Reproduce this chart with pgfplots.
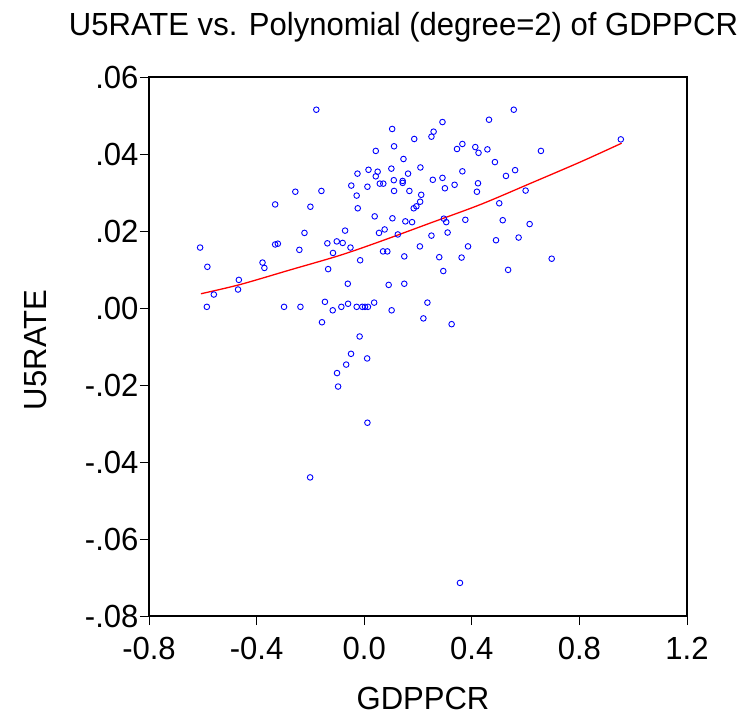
\documentclass[border=0pt]{standalone}
\usepackage{fontspec}
\setmainfont[FakeStretch=0.97]{Liberation Sans}
\usepackage{pgfplots}
\pgfplotsset{compat=1.18}
\newcommand{\cf}{\fontsize{32bp}{38bp}\selectfont}
\begin{document}
\begin{tikzpicture}
\useasboundingbox (-149bp,-100bp) rectangle (593bp,616bp);
\begin{axis}[
  at={(0,0)}, anchor=south west,
  scale only axis, width=538bp, height=539bp,
  xmin=-0.8, xmax=1.2, ymin=-0.08, ymax=0.06,
  scaled y ticks=false, scaled x ticks=false,
  axis line style={line width=2.2bp},
  tick style={line width=0.8bp, black},
  tick align=outside, major tick length=9bp,
  xtick pos=left, ytick pos=left,
  xtick={-0.8,-0.4,0,0.4,0.8,1.2},
  xticklabels={-0.8,-0.4,0.0,0.4,0.8,1.2},
  ytick={-0.08,-0.06,-0.04,-0.02,0,0.02,0.04,0.06},
  yticklabels={-.08,-.06,-.04,-.02,.00,.02,.04,.06},
  ticklabel style={font=\cf},
  xticklabel style={yshift=-9bp},
  yticklabel style={xshift=2bp},
  clip=false,
]
\addplot[only marks, mark=o, mark size=2.8bp, blue, mark options={line width=0.9bp}] coordinates {
(-0.178,0.0515) (0.104,0.0465) (0.186,0.0439) (0.111,0.0420) (0.043,0.0408)
(0.146,0.0387) (0.209,0.0365) (0.101,0.0362) (0.016,0.0359) (0.050,0.0354)
(-0.025,0.0349) (0.043,0.0342) (0.163,0.0349) (0.110,0.0332) (0.143,0.0330)
(0.143,0.0325) (0.058,0.0323) (0.071,0.0323) (-0.048,0.0318) (0.012,0.0315)
(-0.256,0.0302) (-0.159,0.0304) (0.111,0.0304) (0.168,0.0304) (-0.028,0.0292)
(0.212,0.0294) (-0.331,0.0269) (-0.200,0.0263) (-0.024,0.0259) (0.184,0.0259)
(0.194,0.0264) (0.208,0.0276) (0.039,0.0238) (0.105,0.0233) (0.153,0.0225)
(0.178,0.0223) (-0.222,0.0195) (-0.071,0.0201) (0.055,0.0195) (0.076,0.0204)
(0.125,0.0191) (-0.331,0.0165) (-0.321,0.0167) (-0.137,0.0168) (-0.102,0.0173)
(-0.080,0.0169) (-0.051,0.0157) (-0.610,0.0157) (-0.241,0.0151) (-0.116,0.0143)
(0.070,0.0147) (0.086,0.0147) (0.207,0.0160) (-0.015,0.0124) (0.149,0.0134)
(-0.583,0.0107) (-0.378,0.0118) (-0.371,0.0104) (-0.134,0.0101) (-0.466,0.0073)
(-0.469,0.0048) (-0.559,0.0035) (-0.061,0.0063) (0.091,0.0060) (0.149,0.0063)
(-0.146,0.0016) (0.037,0.0014) (-0.585,0.0003) (-0.298,0.0003) (-0.237,0.0003)
(-0.117,-0.0006) (-0.085,0.0003) (-0.060,0.0011) (-0.028,0.0003) (-0.007,0.0003)
(0.003,0.0003) (0.014,0.0003) (0.102,-0.0006)
(-0.157,-0.0037) (-0.017,-0.0074) (-0.049,-0.0119) (0.011,-0.0131) (-0.067,-0.0147)
(-0.101,-0.0169) (-0.097,-0.0204) (0.012,-0.0298) (-0.201,-0.0440)
(0.235,0.0014) (0.220,-0.0027) (0.325,-0.0042) (0.356,-0.0714)
(0.556,0.0515) (0.464,0.0489) (0.291,0.0483) (0.258,0.0458) (0.250,0.0445)
(0.954,0.0438) (0.365,0.0426) (0.345,0.0413) (0.413,0.0418) (0.425,0.0403)
(0.458,0.0412) (0.657,0.0408) (0.486,0.0379) (0.365,0.0355) (0.561,0.0358)
(0.527,0.0343) (0.255,0.0333) (0.291,0.0338) (0.336,0.0320) (0.423,0.0324)
(0.419,0.0302) (0.300,0.0311) (0.600,0.0305) (0.502,0.0272) (0.296,0.0232)
(0.305,0.0223) (0.376,0.0229) (0.515,0.0228) (0.615,0.0218) (0.310,0.0196)
(0.250,0.0188) (0.490,0.0176) (0.574,0.0183) (0.386,0.0160) (0.279,0.0132)
(0.362,0.0131) (0.697,0.0128) (0.294,0.0096) (0.535,0.0099)
};
\addplot[red, line width=1.3bp, smooth, no marks] coordinates {
(-0.607,0.0037) (-0.461,0.0061) (-0.275,0.0099) (-0.089,0.0137) (0.060,0.0173)
(0.247,0.0221) (0.433,0.0269) (0.619,0.0324) (0.806,0.0380) (0.957,0.0428)
};
\end{axis}
\node[anchor=base, font=\cf] at (254.5bp,580bp) {U5RATE vs. Polynomial (degree=2) of GDPPCR};
\node[anchor=base, font=\cf] at (274bp,-93bp) {GDPPCR};
\node[rotate=90, font=\cf] at (-113bp,266bp) {U5RATE};
\end{tikzpicture}
\end{document}
